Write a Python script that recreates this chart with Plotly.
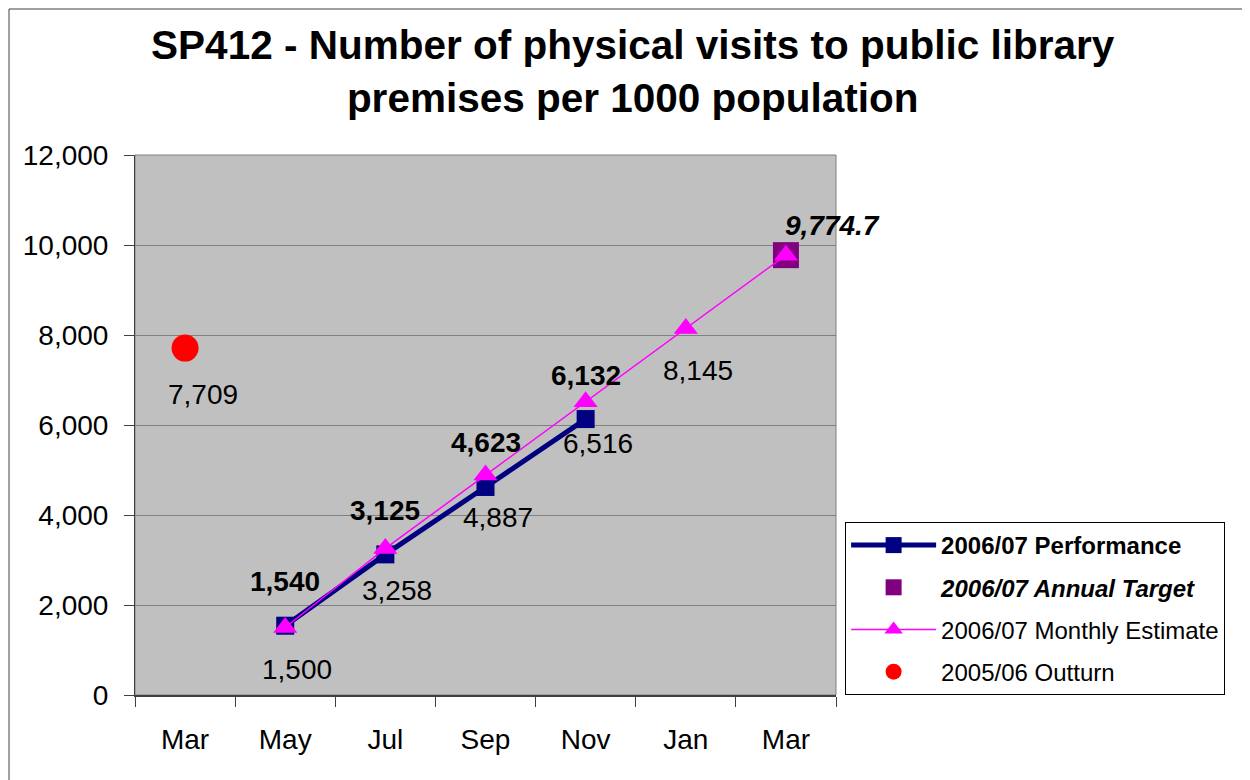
import plotly.graph_objects as go

# category slots (Mar appears twice, so use positions 0..6 on a numeric axis)
months = ["Mar", "May", "Jul", "Sep", "Nov", "Jan", "Mar"]
slots = list(range(len(months)))

# 2006/07 Performance (May..Nov)
perf_x = [1, 2, 3, 4]
perf_y = [1540, 3125, 4623, 6132]

# 2006/07 Monthly Estimate (May..Mar)
est_x = [1, 2, 3, 4, 5, 6]
est_y = [1500, 3258, 4887, 6516, 8145, 9774.7]

# 2006/07 Annual Target
target_x = [6]
target_y = [9774.7]

# 2005/06 Outturn
outturn_x = [0]
outturn_y = [7709]

FONT = "Liberation Sans, Arial, sans-serif"

fig = go.Figure()

fig.add_trace(go.Scatter(
    x=perf_x, y=perf_y, mode="lines+markers",
    name="<b>2006/07 Performance</b>", legendgroup="a",
    line=dict(color="#000080", width=5),
    marker=dict(symbol="square", size=18, color="#000080"),
))
fig.add_trace(go.Scatter(
    x=target_x, y=target_y, mode="markers",
    name="<b><i>2006/07 Annual Target</i></b>", legendgroup="b",
    marker=dict(symbol="square", size=26, color="#800080"),
))
fig.add_trace(go.Scatter(
    x=est_x, y=est_y, mode="lines+markers",
    name="2006/07 Monthly Estimate", legendgroup="c",
    line=dict(color="#FF00FF", width=1.5),
    marker=dict(symbol="triangle-up", size=21, color="#FF00FF"),
))
fig.add_trace(go.Scatter(
    x=outturn_x, y=outturn_y, mode="markers",
    name="2005/06 Outturn", legendgroup="d",
    marker=dict(symbol="circle", size=27, color="#FF0000"),
))

LBL = dict(size=28, color="black", family=FONT)
annotations = []
for xv, yv in zip(perf_x, perf_y):
    annotations.append(dict(x=xv, y=yv, text=f"<b>{yv:,.0f}</b>", showarrow=False,
                            yshift=44, font=LBL))
for xv, yv in zip(est_x[:-1], est_y[:-1]):
    annotations.append(dict(x=xv, y=yv, text=f"{yv:,.0f}", showarrow=False,
                            yshift=-42, xshift=12, font=LBL))
for xv, yv in zip(target_x, target_y):
    annotations.append(dict(x=xv, y=yv, text=f"<b><i>{yv:,.1f}</i></b>", showarrow=False,
                            xshift=47, yshift=30, font=LBL))
for xv, yv in zip(outturn_x, outturn_y):
    annotations.append(dict(x=xv, y=yv, text=f"{yv:,.0f}", showarrow=False,
                            xshift=18, yshift=-46, font=LBL))

fig.update_layout(
    width=1242, height=772,
    margin=dict(l=127, r=414, t=147, b=85),
    paper_bgcolor="white",
    plot_bgcolor="#C0C0C0",
    font=dict(family=FONT, color="black"),
    title=dict(
        text="<b>SP412 - Number of physical visits to public library<br>premises per 1000 population</b>",
        x=0.503, xanchor="center", y=0.934, yanchor="middle",
        font=dict(size=40.5, family=FONT, color="black"),
    ),
    xaxis=dict(
        range=[-0.5, 6.5], tickvals=slots, ticktext=months,
        ticks="", showgrid=False, zeroline=False,
        showline=True, linecolor="#404040", linewidth=2,
        tickfont=dict(size=28), ticklabelstandoff=18,
        minor=dict(tick0=-0.5, dtick=1, ticks="outside", ticklen=10,
                   tickcolor="#404040", tickwidth=1, showgrid=False),
    ),
    yaxis=dict(
        range=[0, 12000], dtick=2000, tickformat=",",
        ticks="outside", ticklen=10, tickcolor="#404040",
        showgrid=True, gridcolor="#808080", gridwidth=1,
        zeroline=False, showline=True, linecolor="#404040", linewidth=1,
        tickfont=dict(size=28), ticklabelstandoff=10,
    ),
    legend=dict(
        x=1.013, xanchor="left", y=0, yanchor="bottom",
        bgcolor="white", bordercolor="black", borderwidth=1,
        font=dict(size=24, family=FONT, color="black"),
        tracegroupgap=8, itemsizing="trace", itemwidth=85,
    ),
    annotations=annotations,
    showlegend=True,
)

# gray frame on top/right of plot area and outer chart border
fig.add_shape(type="rect", xref="paper", yref="paper", x0=0, x1=1, y0=0, y1=1,
              line=dict(color="#808080", width=1), layer="below")
fig.add_shape(type="rect", xref="paper", yref="paper",
              x0=(1 - 127) / 701, x1=(1260 - 127) / 701,
              y0=(-100) / 540, y1=(540 + 147 - 1) / 540,
              line=dict(color="#404040", width=1))

fig.write_html("out.html")
